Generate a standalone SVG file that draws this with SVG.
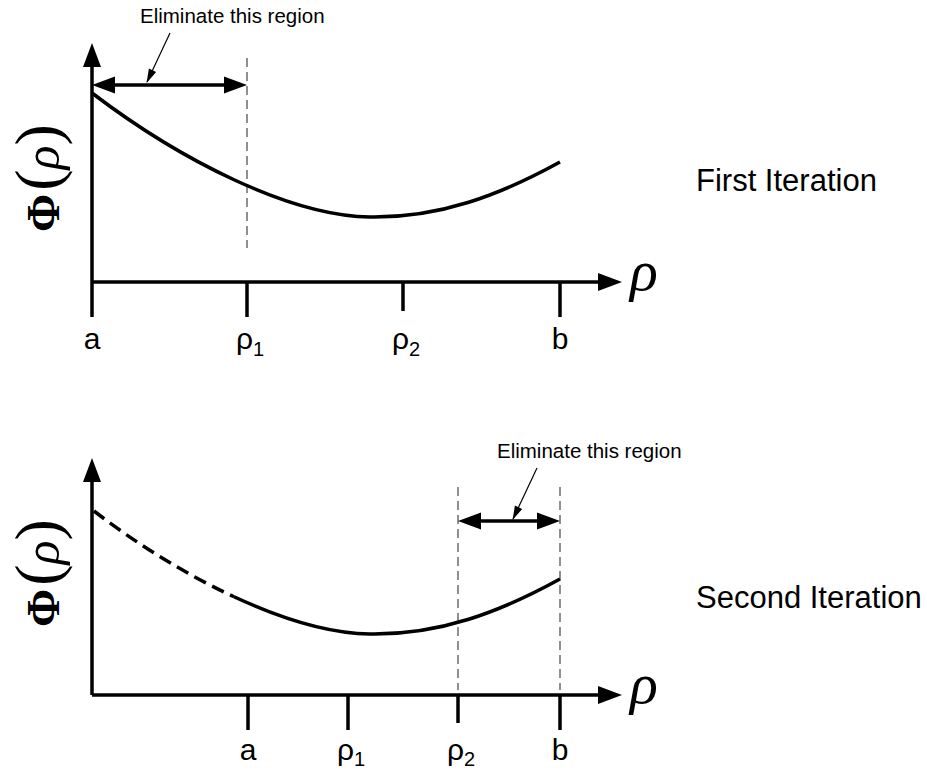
<svg xmlns="http://www.w3.org/2000/svg" width="927" height="769" viewBox="0 0 927 769">
<defs>
<style>
.ax{stroke:#000;stroke-width:3.5;fill:none;marker-end:url(#axh)}
.tk{stroke:#000;stroke-width:3.5}
.dv{stroke:#555;stroke-width:1.3;stroke-dasharray:9 5}
.da{stroke:#000;stroke-width:3.5;marker-start:url(#dah);marker-end:url(#dah)}
.pt{stroke:#000;stroke-width:1.2;marker-end:url(#pth)}
.cv{stroke:#000;stroke-width:3.5;fill:none}
.cvd{stroke:#000;stroke-width:3.5;fill:none;stroke-dasharray:13 7}
.lbl{font-family:"Liberation Sans",Arial,sans-serif;font-size:30px;fill:#000}
.sub{font-size:20px}
.elim{font-family:"Liberation Sans",Arial,sans-serif;font-size:20.5px;fill:#000}
.iter{font-family:"Liberation Sans",Arial,sans-serif;font-size:31px;fill:#000}
.rho{font-family:"Liberation Serif","Times New Roman",serif;font-style:italic;font-size:58px;fill:#000}
.phi{font-family:"Liberation Serif","Times New Roman",serif;fill:#000}
</style>
<marker id="axh" markerUnits="userSpaceOnUse" markerWidth="26" markerHeight="20" refX="2" refY="9" orient="auto" overflow="visible"><path d="M0,0 L24,9 L0,18 Z" fill="#000"/></marker>
<marker id="dah" markerUnits="userSpaceOnUse" markerWidth="25" markerHeight="19" refX="2" refY="8.5" orient="auto-start-reverse" overflow="visible"><path d="M0,0 L23,8.5 L0,17 Z" fill="#000"/></marker>
<marker id="pth" markerUnits="userSpaceOnUse" markerWidth="16" markerHeight="10" refX="13" refY="4" orient="auto" overflow="visible"><path d="M0,0 L14,4 L0,8 Z" fill="#000"/></marker>
</defs>

<!-- First iteration -->
<g id="connectors-top">
<line class="ax" x1="92" y1="317" x2="92" y2="65"/>
<line class="ax" x1="92" y1="282" x2="600" y2="282"/>
<line class="tk" x1="247" y1="282" x2="247" y2="317"/>
<line class="tk" x1="403" y1="282" x2="403" y2="311"/>
<line class="tk" x1="560" y1="282" x2="560" y2="317"/>
<line class="dv" x1="247" y1="58" x2="247" y2="248"/>
<line class="da" x1="113" y1="85" x2="226" y2="85"/>
<line class="pt" x1="170" y1="33" x2="147" y2="82"/>
</g>
<g id="curve-top">
<path class="cv" d="M92,93 C180,160 290,216 370,217 C440,218 500,195 560,162"/>
</g>
<g id="labels-top">
<text class="elim" x="140" y="23">Eliminate this region</text>
<text class="lbl" x="92" y="349" text-anchor="middle">a</text>
<text class="lbl" x="250" y="349" text-anchor="middle">ρ<tspan class="sub" dy="7">1</tspan></text>
<text class="lbl" x="406" y="349" text-anchor="middle">ρ<tspan class="sub" dy="7">2</tspan></text>
<text class="lbl" x="560" y="349" text-anchor="middle">b</text>
<text class="rho" x="630" y="290">ρ</text>
<text class="iter" x="696" y="191">First Iteration</text>
<text class="phi" transform="translate(59,232) rotate(-90)"><tspan font-weight="bold" font-size="46">Φ</tspan><tspan font-size="64" dx="3">(</tspan><tspan font-style="italic" font-size="50">ρ</tspan><tspan font-size="64">)</tspan></text>
</g>

<!-- Second iteration -->
<g id="connectors-bottom">
<line class="ax" x1="92" y1="695" x2="92" y2="480"/>
<line class="ax" x1="92" y1="695" x2="600" y2="695"/>
<line class="tk" x1="248" y1="695" x2="248" y2="730"/>
<line class="tk" x1="348" y1="695" x2="348" y2="730"/>
<line class="tk" x1="458" y1="695" x2="458" y2="723"/>
<line class="tk" x1="560" y1="695" x2="560" y2="730"/>
<line class="dv" x1="458" y1="487" x2="458" y2="690"/>
<line class="dv" x1="560" y1="487" x2="560" y2="690"/>
<line class="da" x1="479" y1="521" x2="539" y2="521"/>
<line class="pt" x1="537" y1="468" x2="513" y2="519"/>
</g>
<g id="curve-bottom" transform="translate(0,417)">
<path class="cvd" d="M94,94 C136,126.5 185.5,157.25 234,179.75"/>
<path class="cv" d="M234,179.75 C282.5,202.25 330,216.5 370,217 C440,218 500,195 560,162"/>
</g>
<g id="labels-bottom">
<text class="elim" x="497" y="458">Eliminate this region</text>
<text class="lbl" x="248" y="760" text-anchor="middle">a</text>
<text class="lbl" x="351" y="760" text-anchor="middle">ρ<tspan class="sub" dy="6">1</tspan></text>
<text class="lbl" x="461" y="760" text-anchor="middle">ρ<tspan class="sub" dy="6">2</tspan></text>
<text class="lbl" x="560" y="760" text-anchor="middle">b</text>
<text class="rho" x="630" y="703">ρ</text>
<text class="iter" x="696" y="608">Second Iteration</text>
<text class="phi" transform="translate(59,627) rotate(-90)"><tspan font-weight="bold" font-size="46">Φ</tspan><tspan font-size="64" dx="3">(</tspan><tspan font-style="italic" font-size="50">ρ</tspan><tspan font-size="64">)</tspan></text>
</g>
</svg>
